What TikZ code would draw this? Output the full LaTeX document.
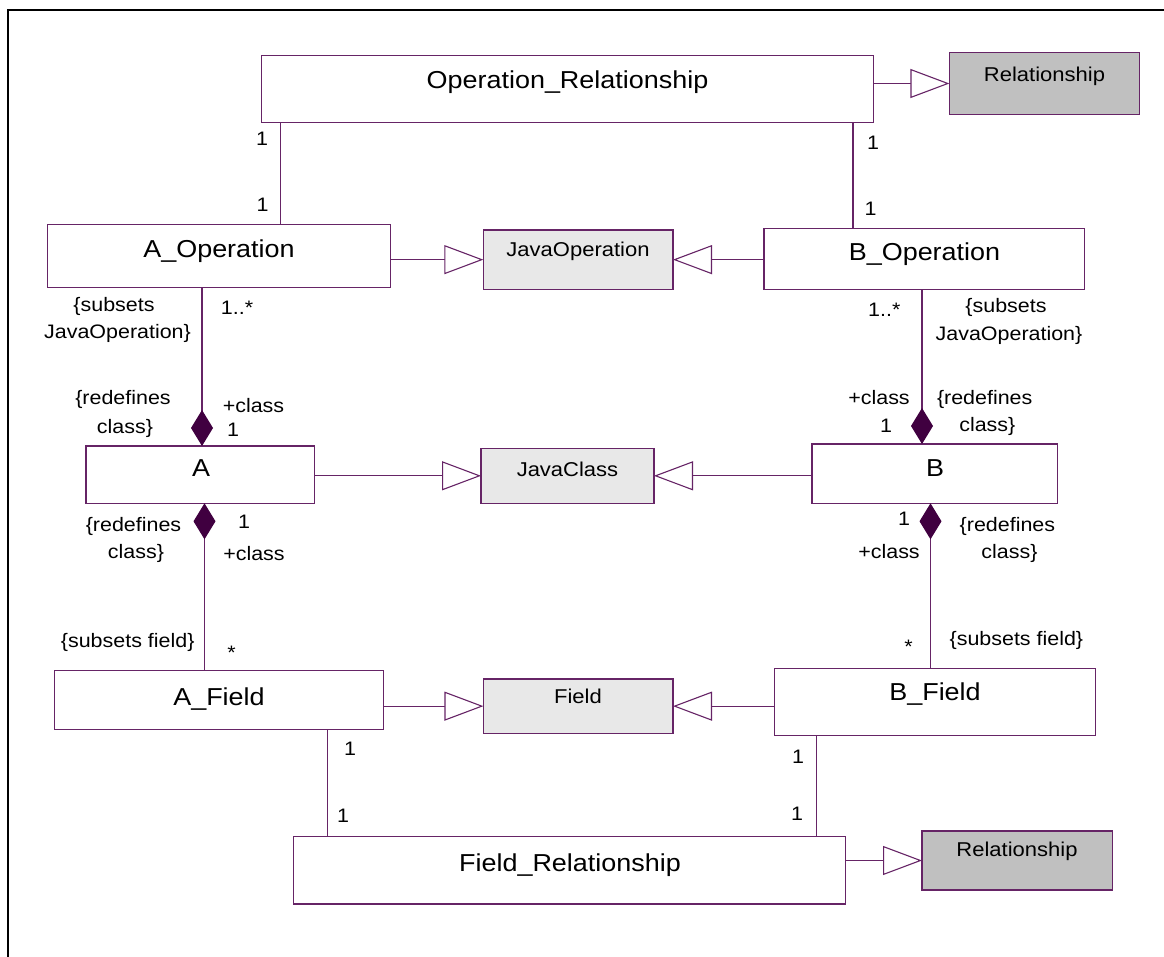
\documentclass[tikz,border=0pt]{standalone}
\usepackage{fontspec}
\newfontfamily\umlfont{Liberation Sans}[FakeStretch=1.1]
\usetikzlibrary{arrows.meta}
\definecolor{umlc}{RGB}{102,36,102}
\definecolor{diamc}{RGB}{64,0,64}
\definecolor{grayA}{RGB}{192,192,192}
\definecolor{grayB}{RGB}{232,232,232}
\tikzset{
  classbox/.style={draw=umlc, line width=1.1pt, fill=white, inner sep=0pt, outer sep=0pt},
  darkbox/.style={classbox, fill=grayA},
  lightbox/.style={classbox, fill=grayB},
  cname/.style={inner sep=0pt, font=\umlfont\fontsize{24.5}{29}\selectfont, text height=17.5pt, text depth=0pt},
  gname/.style={inner sep=0pt, font=\umlfont\fontsize{20}{24}\selectfont, text height=14.3pt, text depth=0pt},
  lbl/.style={inner sep=0pt, font=\umlfont\fontsize{19.5}{23}\selectfont, text height=14pt, text depth=0pt},
  umlassoc/.style={draw=umlc, line width=1.1pt},
  umlgen/.style={umlassoc, -{Triangle[length=39pt, width=29pt, fill=white]}},
  umlcomp/.style={umlassoc, -{Diamond[length=36pt, width=22pt, color=diamc, fill=diamc]}},
  umlcompr/.style={umlassoc, {Diamond[length=36pt, width=22pt, color=diamc, fill=diamc]}-},
}
\begin{document}
\begin{tikzpicture}[x=1pt, y=-1pt]
\useasboundingbox (0,0) rectangle (1164,957);
% frame
\draw[line width=2.5pt, black] (8,957) -- (8,10) -- (1164,10);

% boxes
\node[classbox, minimum width=612.1pt, minimum height=66.6pt] (oprel) at (567.45,89) {};
\node[darkbox,  minimum width=190.3pt, minimum height=61.6pt] (rel1)  at (1044.55,83.5) {};
\node[classbox, minimum width=342.6pt, minimum height=63pt]   (aop)   at (219.1,255.8) {};
\node[lightbox, minimum width=189.7pt, minimum height=59.3pt] (jop)   at (578.15,259.65) {};
\node[classbox, minimum width=320.8pt, minimum height=60.6pt] (bop)   at (924.4,259) {};
\node[classbox, minimum width=228.6pt, minimum height=57.3pt] (a)     at (200.3,474.65) {};
\node[lightbox, minimum width=173pt,   minimum height=55pt]   (jc)    at (567.5,475.8) {};
\node[classbox, minimum width=245.5pt, minimum height=59.3pt] (b)     at (934.75,473.65) {};
\node[classbox, minimum width=329.6pt, minimum height=58.8pt] (af)    at (219.1,699.9) {};
\node[lightbox, minimum width=189.6pt, minimum height=54.3pt] (fld)   at (578.2,706.15) {};
\node[classbox, minimum width=320.9pt, minimum height=67.4pt] (bf)    at (934.85,702) {};
\node[classbox, minimum width=552pt,   minimum height=67.3pt] (frel)  at (569.7,870.35) {};
\node[darkbox,  minimum width=190.7pt, minimum height=59pt]   (rel2)  at (1017.35,860.5) {};

% box texts
\node[cname] (t-oprel) at (567.5,80) {Operation\_Relationship};
\node[gname] (t-rel1)  at (1044.5,74) {Relationship};
\node[cname] (t-aop)   at (219,249) {A\_Operation};
\node[gname] (t-jop)   at (578,249) {JavaOperation};
\node[cname] (t-bop)   at (924.5,251.7) {B\_Operation};
\node[cname] (t-a)     at (201,468) {A};
\node[gname] (t-jc)    at (567.5,469) {JavaClass};
\node[cname] (t-b)     at (935,468) {B};
\node[cname] (t-af)    at (219,697) {A\_Field};
\node[gname] (t-fld)   at (578,696.7) {Field};
\node[cname] (t-bf)    at (935,692) {B\_Field};
\node[cname] (t-frel)  at (570,863) {Field\_Relationship};
\node[gname] (t-rel2)  at (1017,849) {Relationship};

% generalizations
\draw[umlgen] (oprel.east |- rel1.west) -- (rel1.west);
\draw[umlgen] (aop.east |- jop.west) -- (jop.west);
\draw[umlgen] (bop.west |- jop.east) -- (jop.east);
\draw[umlgen] (a.east |- jc.west) -- (jc.west);
\draw[umlgen] (b.west |- jc.east) -- (jc.east);
\draw[umlgen] (af.east |- fld.west) -- (fld.west);
\draw[umlgen] (bf.west |- fld.east) -- (fld.east);
\draw[umlgen] (frel.east |- rel2.west) -- (rel2.west);

% associations
\coordinate (xl1) at (280.5,0);
\coordinate (xr1) at (853,0);
\coordinate (xa1) at (202,0);
\coordinate (xa2) at (204.5,0);
\coordinate (xb1) at (922,0);
\coordinate (xb2) at (930.5,0);
\coordinate (xl2) at (327.5,0);
\coordinate (xr2) at (816.5,0);
\draw[umlassoc] (oprel.south -| xl1) -- (aop.north -| xl1);
\draw[umlassoc] (oprel.south -| xr1) -- (bop.north -| xr1);
\draw[umlcomp]  (aop.south -| xa1) -- (a.north -| xa1);
\draw[umlcompr] (a.south -| xa2) -- (af.north -| xa2);
\draw[umlcomp]  (bop.south -| xb1) -- (b.north -| xb1);
\draw[umlcompr] (b.south -| xb2) -- (bf.north -| xb2);
\draw[umlassoc] (af.south -| xl2) -- (frel.north -| xl2);
\draw[umlassoc] (bf.south -| xr2) -- (frel.north -| xr2);

% labels: top associations
\node[lbl] (l1) at (262,139) {1};
\node[lbl] (l2) at (262.5,205) {1};
\node[lbl] (l3) at (873,143) {1};
\node[lbl] (l4) at (870.5,209) {1};

% A_Operation - A
\node[lbl] (l5) at (114,305) {\{subsets};
\node[lbl] (l6) at (117.5,331.7) {JavaOperation\}};
\node[lbl] (l7) at (237,308) {1..*};
\node[lbl] (l8) at (123,397.7) {\{redefines};
\node[lbl] (l9) at (125,426) {class\}};
\node[lbl] (l10) at (253.5,405.7) {+class};
\node[lbl] (l11) at (233,429) {1};

% B_Operation - B
\node[lbl] (l12) at (884.3,310) {1..*};
\node[lbl] (l13) at (1006,306) {\{subsets};
\node[lbl] (l14) at (1009,333.3) {JavaOperation\}};
\node[lbl] (l15) at (879,397) {+class};
\node[lbl] (l16) at (984.7,397) {\{redefines};
\node[lbl] (l17) at (987.3,424) {class\}};
\node[lbl] (l18) at (886,425.7) {1};

% A - A_Field
\node[lbl] (l19) at (133.5,524) {\{redefines};
\node[lbl] (l20) at (136,551.7) {class\}};
\node[lbl] (l21) at (244,521.7) {1};
\node[lbl] (l22) at (254,553.3) {+class};
\node[lbl] (l23) at (127.7,640) {\{subsets field\}};
\node[lbl] (l24) at (231.5,652) {*};

% B - B_Field
\node[lbl] (l25) at (904,518.3) {1};
\node[lbl] (l26) at (889,551.7) {+class};
\node[lbl] (l27) at (1007.4,524) {\{redefines};
\node[lbl] (l28) at (1009.5,551.7) {class\}};
\node[lbl] (l29) at (908.6,646) {*};
\node[lbl] (l30) at (1016.4,638.3) {\{subsets field\}};

% bottom associations
\node[lbl] (l31) at (350,748.3) {1};
\node[lbl] (l32) at (343,815) {1};
\node[lbl] (l33) at (798,756.7) {1};
\node[lbl] (l34) at (797,813.3) {1};
\end{tikzpicture}
\end{document}
